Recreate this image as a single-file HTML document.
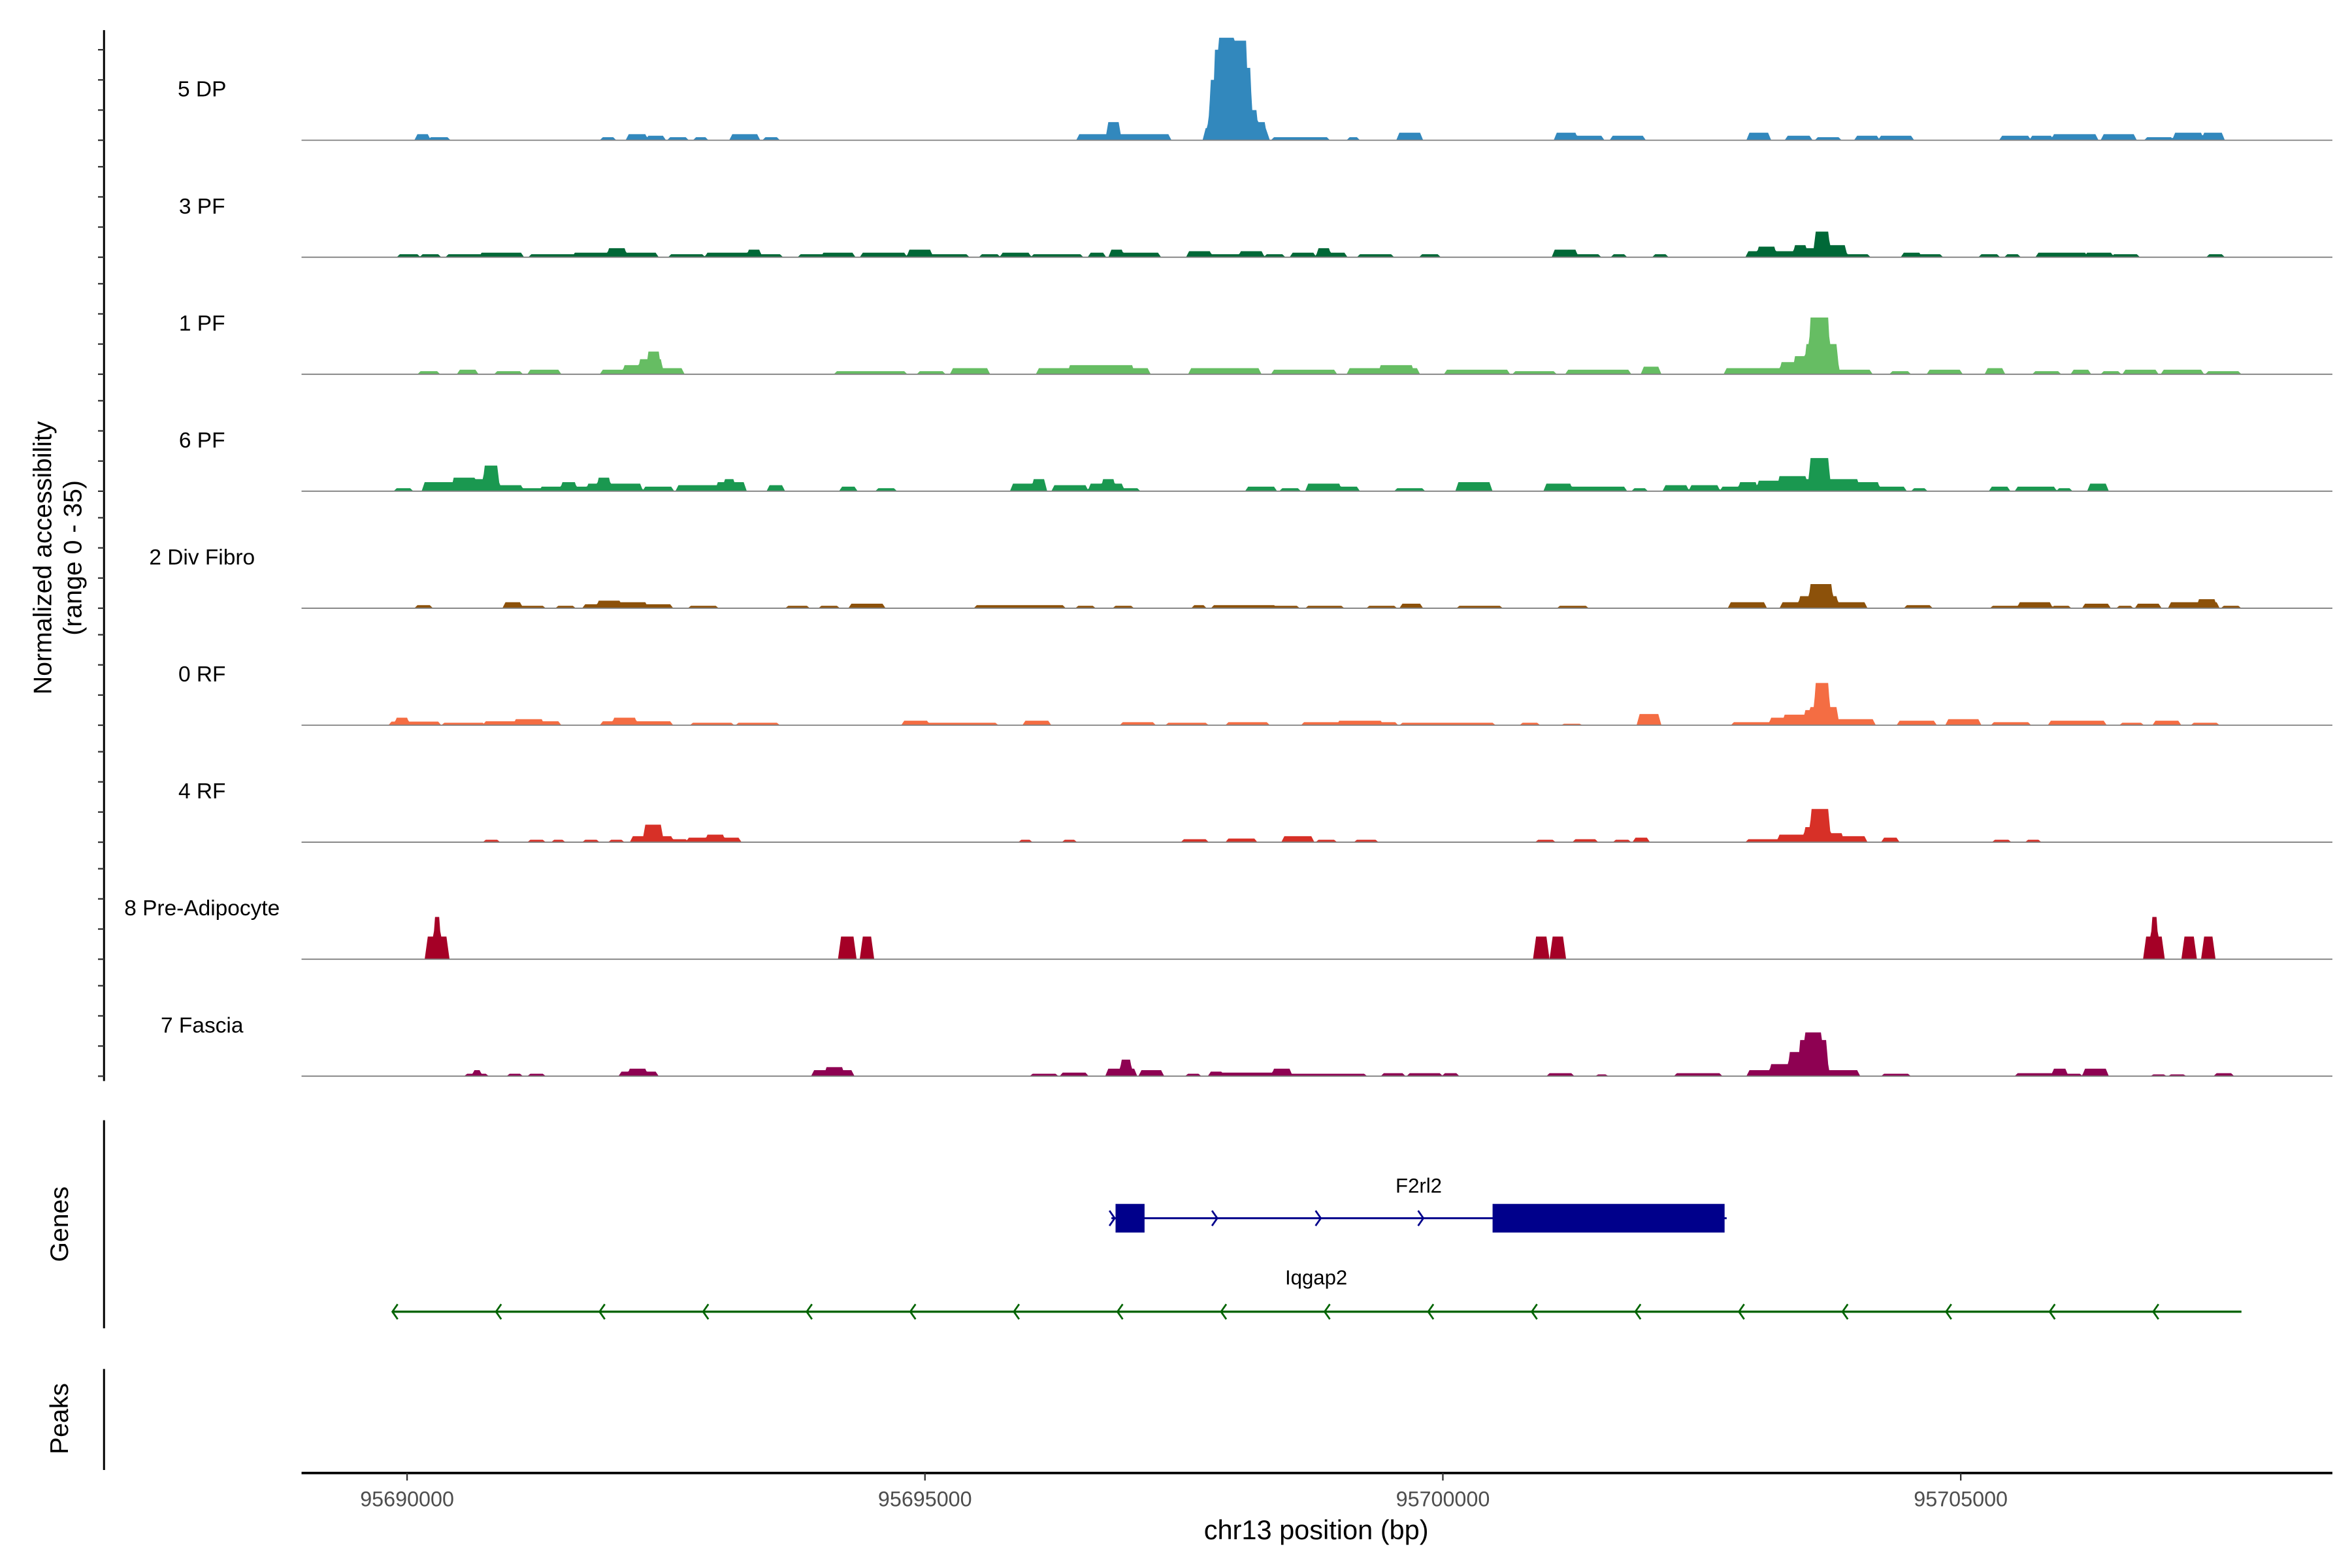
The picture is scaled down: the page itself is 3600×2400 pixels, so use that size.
<!DOCTYPE html>
<html><head><meta charset="utf-8"><style>
html,body{margin:0;padding:0;background:#fff;}
svg{display:block;font-family:"Liberation Sans",Arial,sans-serif;}
</style></head><body>
<svg id="chart" xmlns="http://www.w3.org/2000/svg" width="3600" height="2400" viewBox="0 0 1560 1040">
<g id="tracks"></g>
<g id="yaxis"></g>
<text transform="translate(34,370) rotate(-90)" text-anchor="middle" font-size="17" fill="#000">Normalized accessibility</text>
<text transform="translate(54,370) rotate(-90)" text-anchor="middle" font-size="17" fill="#000">(range 0 - 35)</text>
<g id="genes"></g>
<line x1="69" y1="743" x2="69" y2="881" stroke="#000" stroke-width="1.3"/>
<text transform="translate(45,812) rotate(-90)" text-anchor="middle" font-size="17">Genes</text>
<line x1="69" y1="908" x2="69" y2="975" stroke="#000" stroke-width="1.3"/>
<text transform="translate(45,941) rotate(-90)" text-anchor="middle" font-size="17">Peaks</text>
<g id="xaxis"></g>
<text x="873" y="1021" text-anchor="middle" font-size="18">chr13 position (bp)</text>
</svg>
<script>
const trackNames = ["5 DP","3 PF","1 PF","6 PF","2 Div Fibro","0 RF","4 RF","8 Pre-Adipocyte","7 Fascia"];
const trackColors = ["#3288bd","#006837","#66bd63","#1a9850","#8c510a","#f46d43","#d73027","#a50026","#8e0152"];
// peaks: [start kb, end kb, height] relative to 95690000
const peaksDP = [[0.10,0.20,2],[0.23,0.39,1],[1.89,1.99,1],[2.14,2.30,2],[2.33,2.47,1.5],[2.54,2.69,1],[2.79,2.88,1],[3.14,3.38,2],[3.46,3.57,1],[6.49,6.77,2],[6.77,6.87,6],[6.87,7.35,2],[7.71,7.84,4],[7.74,7.86,8],[7.76,7.88,20],[7.80,7.93,30],[7.84,7.98,34],[7.90,8.04,32],[7.96,8.10,33],[8.02,8.14,24],[8.08,8.20,10],[8.12,8.28,6],[8.15,8.30,3],[8.37,8.88,1],[9.10,9.17,1],[9.58,9.78,2.5],[11.10,11.28,2.5],[11.28,11.53,1.5],[11.64,11.93,1.5],[12.96,13.14,2.5],[13.33,13.54,1.5],[13.62,13.82,1],[14.00,14.19,1.5],[14.23,14.52,1.5],[15.40,15.65,1.5],[15.69,15.87,1.5],[15.90,16.30,2],[16.38,16.67,2],[16.80,17.03,1],[17.07,17.32,2.5],[17.35,17.52,2.5]];
const peaksPF3 = [[-0.07,0.10,1],[0.15,0.30,1],[0.40,0.70,1],[0.72,1.10,1.5],[1.20,1.60,1],[1.62,1.95,1.5],[1.95,2.10,3],[2.10,2.40,1.5],[2.55,2.85,1],[2.90,3.30,1.5],[3.30,3.40,2.5],[3.42,3.60,1],[3.80,4.00,1],[4.02,4.30,1.5],[4.40,4.80,1.5],[4.85,5.05,2.5],[5.05,5.40,1],[5.55,5.70,1],[5.75,6.00,1.5],[6.05,6.50,1],[6.60,6.72,1.5],[6.80,6.90,2.5],[6.90,7.25,1.5],[7.55,7.75,2],[7.75,8.05,1],[8.05,8.25,2],[8.30,8.45,1],[8.55,8.75,1.5],[8.80,8.90,3],[8.90,9.05,1.5],[9.20,9.50,1],[9.80,9.95,1],[11.08,11.28,2.5],[11.28,11.50,1],[11.65,11.75,1],[12.05,12.15,1],[12.95,13.05,2],[13.05,13.20,3.5],[13.20,13.40,2],[13.40,13.50,4],[13.50,13.62,3],[13.60,13.72,8.5],[13.72,13.88,4],[13.90,14.10,1],[14.45,14.60,1.5],[14.60,14.80,1],[15.20,15.35,1],[15.45,15.55,1],[15.75,16.20,1.5],[16.22,16.45,1.5],[16.48,16.70,1],[17.40,17.52,1]];
const peaksPF1 = [[0.13,0.29,1],[0.51,0.66,1.5],[0.87,1.09,1],[1.19,1.46,1.5],[1.89,2.30,1.5],[2.10,2.40,3],[2.25,2.45,5],[2.33,2.43,7.5],[2.45,2.65,2],[4.15,4.80,1],[4.95,5.17,1],[5.27,5.60,2],[6.10,7.15,2],[6.40,7.00,3],[7.57,8.22,2],[8.37,8.95,1.5],[9.10,9.75,2],[9.40,9.70,3],[10.04,10.62,1.5],[10.70,11.07,1],[11.21,11.79,1.5],[11.94,12.08,2.5],[12.74,13.30,2],[13.27,13.53,4],[13.40,13.60,6],[13.51,13.80,10],[13.55,13.72,18.8],[13.80,14.12,1.5],[14.34,14.49,1],[14.70,14.99,1.5],[15.26,15.40,2],[15.72,15.94,1],[16.09,16.23,1.5],[16.38,16.52,1],[16.59,16.88,1.5],[16.96,17.32,1.5],[17.39,17.68,1]];
const peaksPF6 = [[-0.10,0.03,1],[0.17,0.45,3],[0.45,0.65,4.5],[0.65,0.80,4],[0.75,0.87,8.5],[0.87,1.10,2],[1.10,1.30,1],[1.30,1.75,1.5],[1.50,1.62,3],[1.75,2.00,2.5],[1.85,1.95,4.5],[2.00,2.25,2.5],[2.30,2.55,1.5],[2.62,3.00,2],[3.00,3.25,3],[3.07,3.15,4],[3.50,3.62,2],[4.20,4.32,1.5],[4.55,4.70,1],[5.85,6.15,2.5],[6.05,6.15,4],[6.25,6.55,2],[6.60,6.90,2.5],[6.72,6.82,4],[6.92,7.05,1],[8.12,8.37,1.5],[8.45,8.60,1],[8.70,9.00,2.5],[8.90,9.17,1.5],[9.56,9.80,1],[10.15,10.45,3],[11.00,11.23,2.5],[11.23,11.45,1.5],[11.45,11.75,1.5],[11.85,11.95,1],[12.15,12.35,2],[12.40,12.65,2],[12.70,12.90,1.5],[12.87,13.02,3],[13.05,13.40,3.5],[13.25,13.50,5],[13.40,13.55,4],[13.55,13.72,11],[13.60,14.00,4],[14.00,14.20,3],[14.20,14.45,1.5],[14.55,14.65,1],[15.30,15.45,1.5],[15.55,15.90,1.5],[15.95,16.05,1],[16.25,16.40,2.5]];
const peaksDiv = [[0.10,0.22,1],[0.95,1.09,2],[1.09,1.31,0.8],[1.46,1.60,0.8],[1.72,2.54,1.3],[1.85,2.05,2.5],[2.00,2.30,2],[2.74,2.98,0.8],[3.68,3.86,0.8],[4.00,4.15,0.8],[4.29,4.59,1.5],[5.50,5.97,1],[5.97,6.33,1],[6.48,6.62,0.8],[6.84,6.99,0.8],[7.60,7.69,1],[7.79,8.37,1],[8.37,8.59,0.8],[8.70,9.02,0.8],[9.29,9.53,0.8],[9.61,9.78,1.5],[10.16,10.55,0.8],[11.13,11.38,0.8],[12.78,13.10,2],[13.28,13.54,2],[13.45,13.80,4],[13.55,13.75,8],[13.80,14.07,2],[14.48,14.70,1],[15.31,15.57,0.8],[15.57,15.86,2],[15.90,16.04,0.8],[16.20,16.42,1.5],[16.53,16.64,0.8],[16.71,16.91,1.5],[17.03,17.47,2],[17.30,17.45,3],[17.54,17.68,0.8]];
const peaksRF0 = [[-0.15,0.30,1.2],[-0.10,0.00,2.5],[0.36,0.73,0.8],[0.76,1.46,1.3],[1.05,1.30,2],[1.89,2.54,1.3],[2.00,2.20,2.5],[2.76,3.13,0.8],[3.20,3.57,0.8],[4.80,5.02,1.5],[5.02,5.68,0.8],[5.97,6.19,1.5],[6.91,7.20,1],[7.35,7.71,0.8],[7.93,8.30,1],[8.66,9.54,1],[9.00,9.40,1.5],[9.61,10.48,0.8],[10.77,10.91,0.8],[11.17,11.32,0.5],[11.90,12.08,3.7],[12.81,13.17,1],[13.17,13.40,2.5],[13.30,13.55,3.5],[13.50,13.60,5],[13.60,13.72,14],[13.55,13.80,6],[13.80,14.15,2],[14.41,14.74,1.5],[14.88,15.17,2],[15.32,15.65,1],[15.87,16.38,1.5],[16.56,16.74,0.8],[16.88,17.10,1.5],[17.25,17.47,0.8]];
const peaksRF4 = [[0.76,0.87,0.8],[1.19,1.31,0.8],[1.42,1.50,0.8],[1.72,1.83,0.8],[1.97,2.07,0.8],[2.18,2.55,2],[2.30,2.45,5.8],[2.55,2.69,1],[2.72,3.20,1.5],[2.90,3.05,2.5],[5.93,6.01,0.8],[6.35,6.44,0.8],[7.50,7.71,1],[7.93,8.18,1.2],[8.47,8.73,2],[8.80,8.95,0.8],[9.17,9.35,0.8],[10.92,11.06,0.8],[11.28,11.47,1],[11.67,11.79,0.8],[11.86,11.97,1.5],[12.95,13.30,1],[13.25,13.54,2.5],[13.50,13.60,5],[13.56,13.72,11],[13.60,13.85,3],[13.85,14.07,2],[14.26,14.38,1.5],[15.33,15.46,0.8],[15.65,15.75,0.8]];
const peaksPre = [[0.20,0.38,7.5],[0.27,0.31,14],[4.19,4.31,7.5],[4.40,4.48,7.5],[10.90,11.00,7.5],[11.06,11.16,7.5],[16.79,16.94,7.5],[16.85,16.89,14],[17.16,17.25,7.5],[17.35,17.43,7.5]];
const peaksFascia = [[0.58,0.76,0.8],[0.65,0.70,2],[0.99,1.09,0.8],[1.19,1.31,0.8],[2.07,2.40,1.5],[2.15,2.30,2.5],[3.93,4.29,2],[4.05,4.20,3],[6.04,6.26,0.8],[6.33,6.55,1.2],[6.77,7.02,2.5],[6.90,6.98,5.5],[7.09,7.28,2],[7.54,7.64,0.8],[7.76,7.86,1.5],[7.86,8.37,1.2],[8.37,8.52,2.5],[8.52,9.24,0.8],[9.43,9.61,1],[9.68,9.97,1],[10.02,10.13,1],[11.03,11.24,1],[11.50,11.57,0.6],[12.26,12.67,1],[12.96,13.17,2],[13.17,13.40,4],[13.35,13.55,8],[13.45,13.70,12],[13.50,13.65,14.5],[13.70,14.00,2],[14.26,14.49,0.8],[15.55,15.90,1],[15.90,16.01,2.5],[16.04,16.15,0.8],[16.20,16.40,2.5],[16.86,16.96,0.6],[17.03,17.15,0.6],[17.47,17.61,1]];
const trackPeaks = [peaksDP,peaksPF3,peaksPF1,peaksPF6,peaksDiv,peaksRF0,peaksRF4,peaksPre,peaksFascia];
const xTickValues = [95690000,95695000,95700000,95705000];
const yTickValues = [0,10,20,30];
const geneF2rl2 = {name:"F2rl2", start:6.80, end:12.74, exons:[[6.84,7.12],[10.48,12.72]], chevrons:[6.81,7.80,8.80,9.79]};
const geneIqgap2 = {name:"Iqgap2", start:-0.13, end:17.71, chevronStart:-0.12, chevronStep:1.0};

const NS="http://www.w3.org/2000/svg";
const origin=95690000;
function xScale(kb){return 270+kb*68.7;}
function xBp(bp){return xScale((bp-origin)/1000);}
const trackTop=93, trackStep=77.6;
function baseY(i){return trackTop+i*trackStep;}
function yScale(i,v){return baseY(i)-v*(70/35);}
function mk(tag,attrs,parent){const e=document.createElementNS(NS,tag);for(const k in attrs)e.setAttribute(k,attrs[k]);parent.appendChild(e);return e;}
function cov(peaks,kb){let m=0;const r=0.03;for(const p of peaks){let v=0;if(kb>=p[0]-r&&kb<=p[1]+r){if(kb<p[0])v=p[2]*(kb-(p[0]-r))/r;else if(kb>p[1])v=p[2]*((p[1]+r)-kb)/r;else v=p[2];}if(v>m)m=v;}return m;}

const tg=document.getElementById('tracks');
trackPeaks.forEach((peaks,i)=>{
  let d="M"+xScale(-1.2)+","+baseY(i);
  for(let kb=-1.2;kb<=18.6;kb+=0.01){d+="L"+xScale(kb).toFixed(2)+","+yScale(i,cov(peaks,kb)).toFixed(2);}
  d+="L"+xScale(18.6)+","+baseY(i)+"Z";
  const p=mk('path',{d:d,fill:trackColors[i]},tg);
  
  
  const l=mk('line',{x1:200,x2:1547,y1:baseY(i),y2:baseY(i),stroke:'#808080','stroke-width':0.8},tg);
  
  
  const t=mk('text',{x:134,y:baseY(i)-29,'text-anchor':'middle','font-size':14.5,fill:'#000'},tg);
  t.textContent=trackNames[i];
  
  
});

const ya=document.getElementById('yaxis');
const al=mk('line',{x1:69,x2:69,y1:20,y2:717,stroke:'#000','stroke-width':1.3},ya);


trackPeaks.forEach((_,i)=>{yTickValues.forEach(v=>{
  const t=mk('line',{x1:65,x2:69,y1:yScale(i,v),y2:yScale(i,v),stroke:'#333','stroke-width':1},ya);
  
  
});});

const xa=document.getElementById('xaxis');
const xl=mk('line',{x1:200,x2:1547,y1:977,y2:977,stroke:'#000','stroke-width':1.6},xa);


xTickValues.forEach(v=>{
  const x=xBp(v);
  const t=mk('line',{x1:x,x2:x,y1:977,y2:982,stroke:'#333','stroke-width':1},xa);
  
  
  const lb=mk('text',{x:x,y:999,'text-anchor':'middle','font-size':14,fill:'#4d4d4d'},xa);
  lb.textContent=String(v);
  
  
});

const gg=document.getElementById('genes');
const fy=808, navy='#00008b';
const fl=mk('line',{x1:xScale(geneF2rl2.start),x2:xScale(geneF2rl2.end),y1:fy,y2:fy,stroke:navy,'stroke-width':1.3},gg);


geneF2rl2.exons.forEach(e=>{
  const r=mk('rect',{x:xScale(e[0]),y:fy-9.5,width:xScale(e[1])-xScale(e[0]),height:19,fill:navy},gg);
  
  
});
geneF2rl2.chevrons.forEach(c=>{
  const x=xScale(c);
  const p=mk('path',{d:`M${x-2},${fy-5}L${x+1.5},${fy}L${x-2},${fy+5}`,fill:'none',stroke:navy,'stroke-width':1.2},gg);
  
  
});
const ft=mk('text',{x:941,y:791,'text-anchor':'middle','font-size':13.5},gg);
ft.textContent=geneF2rl2.name;


const iy=870, grn='#006400';
const il=mk('line',{x1:xScale(geneIqgap2.start),x2:xScale(geneIqgap2.end),y1:iy,y2:iy,stroke:grn,'stroke-width':1.5},gg);


for(let c=geneIqgap2.chevronStart;c<geneIqgap2.end;c+=geneIqgap2.chevronStep){
  const x=xScale(c);
  const p=mk('path',{d:`M${x+2},${iy-5}L${x-1.5},${iy}L${x+2},${iy+5}`,fill:'none',stroke:grn,'stroke-width':1.2},gg);
  
  
}
const it=mk('text',{x:873,y:852,'text-anchor':'middle','font-size':13.5},gg);
it.textContent=geneIqgap2.name;


</script>
</body></html>
